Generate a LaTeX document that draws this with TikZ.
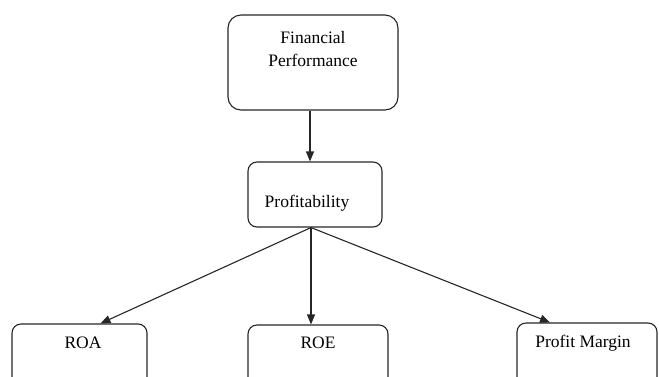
\documentclass[tikz,border=0pt]{standalone}
\usepackage{fontspec}
\setmainfont{Liberation Serif}
\usetikzlibrary{arrows.meta}
\begin{document}
\begin{tikzpicture}[x=1pt,y=-1pt,
  box/.style={draw=black!85,line width=1.1pt,rounded corners=#1,inner sep=0pt},
  box/.default=9pt,
  lbl/.style={font=\fontsize{17.5}{22}\selectfont,inner sep=0pt,text=black},
  arr/.style={draw=black!85,line width=1.1pt,-{Triangle[length=10pt,width=8pt]}}]
\useasboundingbox (0,0) rectangle (659,376);
\clip (0,0) rectangle (659,376);
\node[box=13pt,minimum width=170pt,minimum height=95pt] (fp) at (313,62.5) {};
\node[lbl] (fpt1) at (313,38) {Financial};
\node[lbl] (fpt2) at (313,60) {Performance};
\node[box,minimum width=134pt,minimum height=65pt] (pr) at (315,194.5) {};
\node[lbl] (prt) at (307,203) {Profitability};
\node[box,minimum width=135pt,minimum height=90pt] (roa) at (79.5,369) {};
\node[lbl] (roat) at (83,343) {ROA};
\node[box,minimum width=140pt,minimum height=90pt] (roe) at (318,370) {};
\node[lbl] (roet) at (318,343) {ROE};
\node[box,minimum width=140pt,minimum height=90pt] (pm) at (587,368) {};
\node[lbl] (pmt) at (583,343) {Profit Margin};
\draw[arr] ([xshift=-3pt]fp.south) -- ([xshift=-5pt]pr.north);
\coordinate (o) at ([xshift=-4pt]pr.south);
\draw[arr] (o) -- ([xshift=21pt]roa.north);
\draw[arr] (o) -- ([xshift=-7pt]roe.north);
\draw[arr] (o) -- ([xshift=-37pt]pm.north);
\end{tikzpicture}
\end{document}
